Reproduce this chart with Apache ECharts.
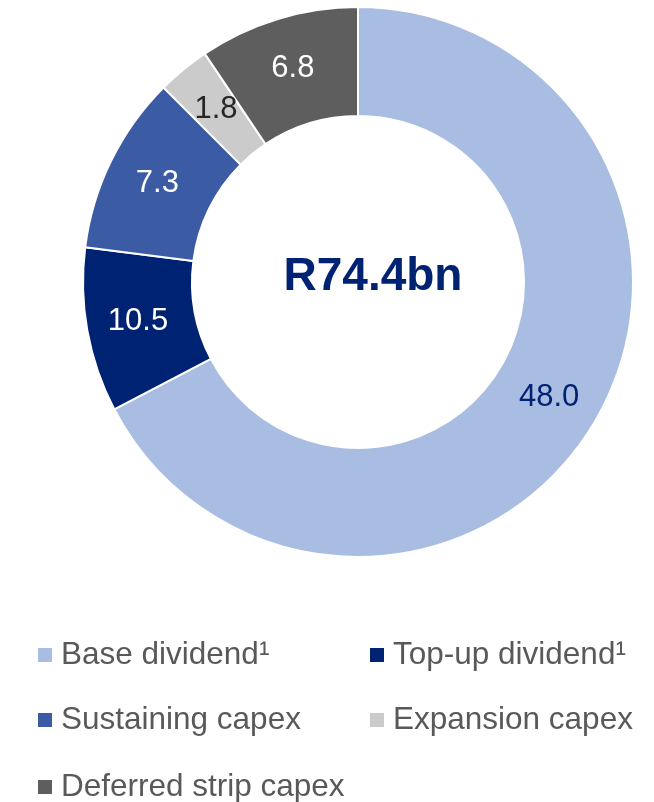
<!DOCTYPE html>
<html>
<head>
<meta charset="utf-8">
<script src="https://cdn.jsdelivr.net/npm/echarts@6/dist/echarts.min.js"></script>
<style>
  html, body { margin: 0; padding: 0; background: #fff; }
  #chart { width: 654px; height: 802px; }
</style>
</head>
<body>
<div id="chart"></div>
<script>
// data
var categories = ['Base dividend¹', 'Top-up dividend¹', 'Sustaining capex', 'Expansion capex', 'Deferred strip capex'];
// slice sizes as drawn in the picture (R bn, total 74.4)
var values = [50.1, 7.2, 7.8, 2.3, 7.0];
// numbers printed on the slices
var labels = ['48.0', '10.5', '7.3', '1.8', '6.8'];
var colors = ['#A9BCE2', '#002272', '#3B5BA5', '#CBCBCB', '#5E5E5E'];
var labelColors = ['#002272', '#ffffff', '#ffffff', '#262626', '#ffffff'];
var totalText = 'R74.4bn';

var FONT = '"Liberation Sans", Arial, sans-serif';

var myChart = echarts.init(document.getElementById('chart'));

var pieData = [];
for (var i = 0; i < categories.length; i++) {
    pieData.push({
        name: categories[i],
        value: values[i],
        itemStyle: { color: colors[i] },
        label: { color: labelColors[i], formatter: labels[i] }
    });
}

// one legend per item so each sits where the original puts it
var legendPos = [
    [36, 639], [368, 639],
    [36, 704], [368, 704],
    [36, 771]
];
var legends = [];
for (var j = 0; j < categories.length; j++) {
    legends.push({
        data: [categories[j]],
        left: legendPos[j][0],
        top: legendPos[j][1],
        padding: 0,
        icon: 'rect',
        itemWidth: 16,
        itemHeight: 16,
        selectedMode: false,
        textStyle: {
            fontFamily: FONT,
            fontSize: 31.5,
            color: '#595959',
            padding: [0, 0, 0, 3]
        }
    });
}

var option = {
    animation: false,
    legend: legends,
    graphic: [{
        type: 'text',
        x: 373,
        y: 277,
        style: {
            text: totalText,
            fontFamily: FONT,
            fontSize: 46,
            fontWeight: 'bold',
            fill: '#002272',
            textAlign: 'center',
            textVerticalAlign: 'middle'
        }
    }],
    series: [{
        type: 'pie',
        center: [358, 282],
        radius: [166, 275],
        startAngle: 90,
        clockwise: true,
        itemStyle: { borderColor: '#ffffff', borderWidth: 2 },
        label: {
            show: true,
            position: 'inside',
            fontFamily: FONT,
            fontSize: 31
        },
        labelLine: { show: false },
        emphasis: { disabled: true },
        data: pieData
    }]
};

myChart.setOption(option);
</script>
</body>
</html>
